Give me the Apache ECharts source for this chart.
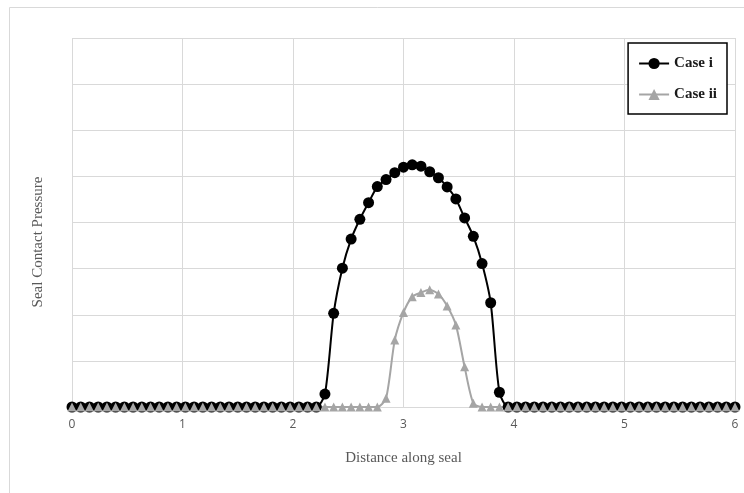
<!DOCTYPE html>
<html>
<head>
    <meta charset="UTF-8">
    <title>Seal Contact Pressure</title>
    <script src="https://cdn.jsdelivr.net/npm/echarts@6/dist/echarts.min.js"></script>
    <style>
        body {
            margin: 0;
            padding: 0;
            background: #fff;
        }

        #chart {
            width: 744px;
            height: 493px;
        }
    </style>
</head>
<body>
<div id="chart"></div>
<script>
    // distance along seal (x positions of the points)
    var xs = [0, 0.079, 0.158, 0.237, 0.316, 0.395, 0.474, 0.553, 0.632, 0.711,
        0.789, 0.868, 0.947, 1.026, 1.105, 1.184, 1.263, 1.342, 1.421, 1.5,
        1.579, 1.658, 1.737, 1.816, 1.895, 1.974, 2.053, 2.132, 2.211, 2.289,
        2.368, 2.447, 2.526, 2.605, 2.684, 2.763, 2.842, 2.921, 3, 3.079,
        3.158, 3.237, 3.316, 3.395, 3.474, 3.553, 3.632, 3.711, 3.789, 3.868,
        3.947, 4.026, 4.105, 4.184, 4.263, 4.342, 4.421, 4.5, 4.579, 4.658,
        4.737, 4.816, 4.895, 4.974, 5.053, 5.132, 5.211, 5.289, 5.368, 5.447,
        5.526, 5.605, 5.684, 5.763, 5.842, 5.921, 6];

    // Case i pressure
    var caseI = [0, 0, 0, 0, 0, 0, 0, 0, 0, 0,
        0, 0, 0, 0, 0, 0, 0, 0, 0, 0,
        0, 0, 0, 0, 0, 0, 0, 0, 0, 0.28,
        2.03, 3.01, 3.64, 4.07, 4.43, 4.78, 4.93, 5.08, 5.20, 5.25,
        5.22, 5.10, 4.97, 4.77, 4.51, 4.10, 3.70, 3.11, 2.26, 0.32,
        0, 0, 0, 0, 0, 0, 0, 0, 0, 0,
        0, 0, 0, 0, 0, 0, 0, 0, 0, 0,
        0, 0, 0, 0, 0, 0, 0];

    // Case ii pressure
    var caseII = [0, 0, 0, 0, 0, 0, 0, 0, 0, 0,
        0, 0, 0, 0, 0, 0, 0, 0, 0, 0,
        0, 0, 0, 0, 0, 0, 0, 0, 0, 0,
        0, 0, 0, 0, 0, 0, 0.19, 1.45, 2.05, 2.39,
        2.48, 2.54, 2.45, 2.19, 1.78, 0.87, 0.08, 0, 0, 0,
        0, 0, 0, 0, 0, 0, 0, 0, 0, 0,
        0, 0, 0, 0, 0, 0, 0, 0, 0, 0,
        0, 0, 0, 0, 0, 0, 0];

    var xTicks = ['0', '1', '2', '3', '4', '5', '6'];

    var chart = echarts.init(document.getElementById('chart'), null, {renderer: 'canvas'});

    var option = {
        animation: false,
        backgroundColor: '#fff',
        grid: {
            left: 72,
            right: 9,
            top: 38,
            bottom: 86
        },
        legend: {
            orient: 'vertical',
            right: 17,
            top: 43,
            padding: [13, 10, 12, 10],
            itemWidth: 30,
            itemHeight: 14,
            itemGap: 16,
            borderColor: '#000',
            borderWidth: 1.5,
            backgroundColor: '#fff',
            textStyle: {
                fontFamily: 'Liberation Serif',
                fontWeight: 'bold',
                fontSize: 15,
                color: '#1a1a1a'
            },
            data: ['Case i', 'Case ii']
        },
        xAxis: {
            type: 'value',
            min: 0,
            max: 6,
            interval: 1,
            name: 'Distance along seal',
            nameLocation: 'middle',
            nameGap: 44,
            nameTextStyle: {
                fontFamily: 'Liberation Serif',
                fontSize: 15,
                color: '#595959'
            },
            axisLine: {show: true, lineStyle: {color: '#d9d9d9'}},
            axisTick: {show: false},
            axisLabel: {
                fontFamily: 'Open Sans',
                fontSize: 12,
                color: '#595959',
                margin: 12,
                formatter: function (v) {
                    return xTicks[Math.round(v)];
                }
            },
            splitLine: {show: true, lineStyle: {color: '#d9d9d9', width: 1}}
        },
        yAxis: {
            type: 'value',
            min: 0,
            max: 8,
            interval: 1,
            axisLine: {show: false},
            axisTick: {show: false},
            axisLabel: {show: false},
            splitLine: {show: true, lineStyle: {color: '#d9d9d9', width: 1}}
        },
        graphic: [
            {
                type: 'rect',
                shape: {x: 9.5, y: 7.5, width: 760, height: 520},
                style: {fill: 'none', stroke: '#d9d9d9', lineWidth: 1},
                silent: true,
                z: -1
            },
            {
                type: 'text',
                x: 38,
                y: 242,
                rotation: Math.PI / 2,
                style: {
                    text: 'Seal Contact Pressure',
                    fontFamily: 'Liberation Serif',
                    fontSize: 15,
                    fill: '#595959',
                    align: 'center',
                    verticalAlign: 'middle'
                }
            }
        ],
        series: [
            {
                name: 'Case i',
                type: 'line',
                smooth: 0.25,
                symbol: 'circle',
                symbolSize: 11,
                clip: false,
                lineStyle: {color: '#000', width: 2},
                itemStyle: {color: '#000'},
                data: xs.map(function (x, i) {
                    return [x, caseI[i]];
                })
            },
            {
                name: 'Case ii',
                type: 'line',
                smooth: 0.25,
                symbol: 'triangle',
                symbolSize: 9,
                clip: false,
                lineStyle: {color: '#a5a5a5', width: 2},
                itemStyle: {color: '#a5a5a5'},
                data: xs.map(function (x, i) {
                    return [x, caseII[i]];
                })
            }
        ]
    };
    chart.setOption(option);
</script>
</body>
</html>
